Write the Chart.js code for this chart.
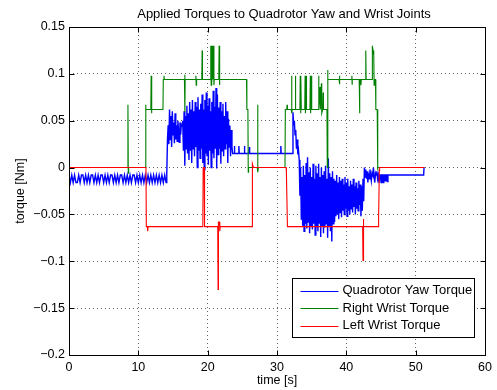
<!DOCTYPE html>
<html lang="en">
<head>
<meta charset="UTF-8">
<title>Applied Torques to Quadrotor Yaw and Wrist Joints</title>
<script src="https://cdn.jsdelivr.net/npm/chart.js@4.4.1/dist/chart.umd.min.js"></script>
<style>
  body { margin: 0; background: #fff; }
</style>
</head>
<body>
<canvas id="torqueChart" width="497" height="390"></canvas>
<script>
const chartTitle = 'Applied Torques to Quadrotor Yaw and Wrist Joints';
const seriesNames = ['Quadrotor Yaw Torque', 'Right Wrist Torque', 'Left Wrist Torque'];
const seriesColors = ['#0000ff', '#008000', '#ff0000'];

const timeTicks = [0, 10, 20, 30, 40, 50, 60];
const torqueTicks = [-0.2, -0.15, -0.1, -0.05, 0, 0.05, 0.1, 0.15];

// quadrotor yaw torque, hovering: one sample every 0.2 s from t = 0
const yawHover = [
  -0.008, -0.016, -0.008, -0.016, -0.008, -0.016, -0.016, -0.008, -0.016, -0.008,
  -0.008, -0.016, -0.008, -0.016, -0.008, -0.016, -0.008, -0.008, -0.016, -0.008,
  -0.016, -0.008, -0.016, -0.008, -0.008, -0.016, -0.008, -0.016, -0.008, -0.016,
  -0.008, -0.008, -0.016, -0.008, -0.016, -0.008, -0.016, -0.008, -0.008, -0.016,
  -0.008, -0.016, -0.008, -0.016, -0.008, -0.016, -0.008, -0.008, -0.016, -0.008,
  -0.016, -0.008, -0.016, -0.008, -0.016, -0.008, -0.016, -0.008, -0.016, -0.008,
  -0.016, -0.008, -0.016, -0.008, -0.016, -0.008, -0.016, -0.008, -0.016, -0.008,
  -0.016
];
// grasping: every 0.1 s from t = 14.1
const yawGrasp = [
  -0.008, 0.030, 0.045, 0.025, 0.062, 0.030, 0.055, 0.022, 0.060, 0.035,
  0.048, 0.026, 0.058, 0.030, 0.045, 0.028, 0.050, 0.040, 0.027, 0.048,
  0.035, 0.046, 0.044, 0.050, 0.018, 0.060, 0.002, 0.055, 0.020, 0.066,
  0.015, 0.058, 0.008, 0.070, 0.018, 0.062, 0.005, 0.072, 0.020, 0.060,
  0.012, 0.070, 0.022, 0.065, 0.000, 0.075, 0.018, 0.062, 0.010, 0.068,
  0.020, 0.078, 0.005, 0.062, -0.002, 0.072, 0.015, 0.080, 0.012, 0.066,
  0.003, 0.074, 0.018, 0.060, 0.000, 0.070, 0.015, 0.082, 0.010, 0.065,
  0.020, 0.085, -0.001, 0.078, 0.014, 0.064, 0.020, 0.070, 0.004, 0.060,
  0.018, 0.068, 0.012, 0.055, 0.020, 0.070, 0.025, 0.060, 0.005, 0.052,
  0.022, 0.045, 0.012, 0.040, 0.022, 0.015
];
// carrying: [t, torque]
const yawCarry = [
  [23.7, 0.015], [23.8, 0.015], [23.85, 0.023], [23.9, 0.015], [24.45, 0.015], [24.5, 0.023],
  [24.55, 0.015], [25.25, 0.015], [25.3, 0.023], [25.35, 0.015], [25.95, 0.015], [26.0, 0.022],
  [26.05, 0.015], [30.5, 0.015], [30.55, 0.023], [30.6, 0.015], [32.1, 0.015]
];
// releasing: every 0.1 s from t = 32.2
const yawRelease = [
  0.015, 0.059, 0.045, 0.050, 0.035, 0.040, 0.020, 0.030, 0.014, 0.018,
  0.008, -0.030, 0.000, -0.055, -0.010, -0.062, 0.002, -0.068, -0.008, -0.060,
  0.005, -0.065, 0.011, -0.058, -0.005, -0.070, 0.000, -0.062, -0.010, -0.066,
  0.004, -0.060, -0.012, -0.072, 0.002, -0.064, -0.006, -0.068, 0.004, -0.060,
  -0.010, -0.074, 0.000, -0.062, -0.008, -0.070, -0.004, -0.064, 0.002, -0.060,
  -0.012, -0.075, 0.010, -0.062, -0.006, -0.068, -0.010, -0.079, -0.004, -0.060,
  -0.012, -0.058, -0.014, -0.052, -0.008, -0.050, -0.016, -0.055, -0.010, -0.048,
  -0.014, -0.053, -0.012, -0.046, -0.018, -0.050, -0.010, -0.044, -0.016, -0.052,
  -0.012, -0.046, -0.020, -0.050, -0.014, -0.044, -0.018, -0.048, -0.012, -0.042,
  -0.020, -0.050, -0.016, -0.044, -0.022, -0.046, -0.014, -0.040, -0.018, -0.052,
  -0.020, -0.046, -0.012, -0.036, 0.000, -0.010, -0.002, -0.012, -0.004, -0.016,
  -0.006, -0.012, -0.002, -0.008, -0.014, -0.006, -0.008, 0.000, -0.010, -0.016,
  -0.006, -0.008, -0.004, -0.012, -0.008, -0.016, -0.008, -0.008, -0.016, -0.008,
  -0.008, -0.016, -0.008, -0.008, -0.014, -0.008, -0.008, -0.015, -0.008
];
const yawSettle = [[51.15, -0.008], [51.2, 0]];

// right wrist torque: [t, torque]
const rightWrist = [
  [0, 0], [8.45, 0], [8.5, 0.067], [8.55, -0.006], [8.6, 0],
  [11.0, 0], [11.05, 0.067], [11.1, 0.062], [11.8, 0.062], [11.85, 0.098], [11.9, 0.058], [11.95, 0.062],
  [13.55, 0.062], [13.6, 0.094], [13.7, 0.098], [13.75, 0.094],
  [16.65, 0.094], [16.7, 0.099], [16.72, 0.059], [16.75, 0.094],
  [18.25, 0.094], [18.3, 0.098], [18.35, 0.088], [18.4, 0.094],
  [19.15, 0.094], [19.2, 0.125], [19.25, 0.094],
  [20.4, 0.094], [20.45, 0.130], [20.5, 0.088], [20.55, 0.130], [20.6, 0.088], [20.7, 0.130],
  [20.75, 0.094], [20.85, 0.130], [20.9, 0.088], [20.95, 0.094],
  [21.6, 0.094], [21.65, 0.130], [21.7, 0.088], [21.75, 0.094],
  [25.6, 0.094], [25.65, 0.062], [25.8, 0.062], [25.85, -0.005], [25.9, 0],
  [27.15, 0], [27.2, 0.067], [27.25, -0.005], [27.3, 0],
  [31.15, 0], [31.2, 0.062], [31.4, 0.062], [31.45, 0.067], [31.5, 0.062],
  [32.05, 0.062], [32.1, 0.098], [32.15, 0.058], [32.2, 0.062], [32.6, 0.062], [32.65, 0.098], [32.7, 0.062],
  [33.3, 0.062], [33.35, 0.098], [33.4, 0.058], [33.45, 0.098], [33.5, 0.062],
  [34.0, 0.062], [34.05, 0.098], [34.1, 0.058], [34.2, 0.098], [34.25, 0.062],
  [34.75, 0.062], [34.8, 0.098], [34.85, 0.058], [34.95, 0.098], [35.0, 0.062],
  [35.95, 0.062], [36.0, 0.098], [36.05, 0.062], [36.2, 0.086], [36.25, 0.062], [36.4, 0.090],
  [36.45, 0.058], [36.6, 0.062], [36.65, 0.080], [36.7, 0.062],
  [37.2, 0.062], [37.25, 0], [37.3, 0.104], [37.35, 0.094],
  [38.95, 0.094], [39.0, 0.098], [39.03, 0.089], [39.05, 0.094],
  [40.75, 0.094], [40.8, 0.098], [40.83, 0.089], [40.85, 0.094],
  [41.85, 0.094], [41.9, 0.058], [41.95, 0.094], [42.05, 0.094], [42.1, 0.088], [42.15, 0.094],
  [42.75, 0.094], [42.8, 0.125], [42.85, 0.094],
  [43.7, 0.094], [43.75, 0.130], [43.85, 0.125], [43.95, 0.120], [44.0, 0.088], [44.1, 0.094],
  [44.2, 0.094], [44.25, 0.062], [44.45, 0.062], [44.5, -0.003], [44.55, 0], [51.25, 0]
];

// left wrist torque: [t, torque]
const leftWrist = [
  [0, 0], [11.1, 0], [11.15, -0.063], [11.3, -0.063], [11.35, -0.068], [11.4, -0.063],
  [19.3, -0.063], [19.35, 0], [19.5, 0], [19.55, -0.063],
  [21.45, -0.063], [21.5, -0.130], [21.55, -0.058], [21.7, -0.058], [21.75, -0.068], [21.8, -0.063],
  [26.4, -0.063], [26.45, 0.004], [26.6, 0],
  [31.3, 0], [31.35, -0.004], [31.5, -0.063],
  [42.35, -0.063], [42.4, -0.099], [42.45, -0.055], [42.5, -0.063],
  [44.6, -0.063], [44.65, -0.055], [44.75, -0.003], [44.8, 0], [51.25, 0]
];

function sampled(start, step, values) {
  return values.map((v, i) => ({ x: +(start + i * step).toFixed(2), y: v }));
}
function pairs(list) {
  return list.map(p => ({ x: p[0], y: p[1] }));
}

const yawPoints = [].concat(
  sampled(0, 0.2, yawHover),
  sampled(14.1, 0.1, yawGrasp),
  pairs(yawCarry),
  sampled(32.2, 0.1, yawRelease),
  pairs(yawSettle)
);

function torqueLabel(v) {
  const s = String(Math.round(v * 100) / 100);
  return s.replace('-', '\u2212');
}

// MATLAB style box, inward ticks, title and boxed legend
const matlabFrame = {
  id: 'matlabFrame',
  afterDatasetsDraw(chart) {
    const { ctx, chartArea: a, scales } = chart;
    const l = Math.round(a.left) + 0.5, r = Math.round(a.right) + 0.5;
    const t = Math.round(a.top) + 0.5, b = Math.round(a.bottom) + 0.5;
    ctx.save();
    ctx.strokeStyle = '#000';
    ctx.lineWidth = 1;
    ctx.setLineDash([]);
    ctx.strokeRect(l, t, r - l, b - t);
    ctx.beginPath();
    scales.x.ticks.forEach(tk => {
      const px = Math.round(scales.x.getPixelForValue(tk.value)) + 0.5;
      ctx.moveTo(px, b); ctx.lineTo(px, b - 5);
      ctx.moveTo(px, t); ctx.lineTo(px, t + 5);
    });
    scales.y.ticks.forEach(tk => {
      const py = Math.round(scales.y.getPixelForValue(tk.value)) + 0.5;
      ctx.moveTo(l, py); ctx.lineTo(l + 5, py);
      ctx.moveTo(r, py); ctx.lineTo(r - 5, py);
    });
    ctx.stroke();

    ctx.fillStyle = '#000';
    ctx.font = '13px "Liberation Sans", Arial, sans-serif';
    ctx.textAlign = 'center';
    ctx.textBaseline = 'middle';
    ctx.fillText(chartTitle, (a.left + a.right) / 2 + 7, 14);

    // legend
    const bx = Math.round(a.right) - 193 + 0.5, by = Math.round(a.bottom) - 77 + 0.5;
    const bw = 182, bh = 59;
    ctx.fillStyle = '#fff';
    ctx.fillRect(bx, by, bw, bh);
    ctx.strokeRect(bx, by, bw, bh);
    ctx.textAlign = 'left';
    chart.data.datasets.forEach((ds, i) => {
      const ry = by + 12 + i * 17.5;
      ctx.strokeStyle = ds.borderColor;
      ctx.lineWidth = 1;
      ctx.beginPath();
      ctx.moveTo(bx + 8, Math.round(ry) + 0.5);
      ctx.lineTo(bx + 46, Math.round(ry) + 0.5);
      ctx.stroke();
      ctx.fillStyle = '#000';
      ctx.fillText(ds.label, bx + 50, ry);
    });
    ctx.restore();
  }
};

Chart.defaults.font.family = '"Liberation Sans", Arial, Helvetica, sans-serif';
Chart.defaults.color = '#000';

const ctx = document.getElementById('torqueChart').getContext('2d');
const torqueChart = new Chart(ctx, {
  type: 'scatter',
  data: {
    datasets: [
      { label: seriesNames[0], data: yawPoints, borderColor: seriesColors[0], borderWidth: 1.4, order: 2 },
      { label: seriesNames[1], data: pairs(rightWrist), borderColor: seriesColors[1], borderWidth: 1.1, order: 1 },
      { label: seriesNames[2], data: pairs(leftWrist), borderColor: seriesColors[2], borderWidth: 1.1, order: 0 }
    ].map(ds => Object.assign(ds, {
      showLine: true, pointRadius: 0, pointHoverRadius: 0, tension: 0, fill: false
    }))
  },
  options: {
    responsive: false,
    animation: false,
    devicePixelRatio: 1,
    layout: { padding: { top: 27, right: 10, bottom: 0, left: 0 } },
    plugins: {
      legend: { display: false },
      title: { display: false },
      tooltip: { enabled: false }
    },
    scales: {
      x: {
        type: 'linear',
        min: 0,
        max: 60,
        afterBuildTicks: s => { s.ticks = timeTicks.map(v => ({ value: v })); },
        afterFit: s => { s.height = 35; },
        ticks: { padding: 5, font: { size: 12.5 } },
        grid: { color: 'rgba(0,0,0,0.6)', lineWidth: 1, drawTicks: false },
        border: { display: false, dash: [1, 3] },
        title: { display: true, text: 'time [s]', font: { size: 12.5 }, padding: { top: 0, bottom: 1.5 } }
      },
      y: {
        type: 'linear',
        min: -0.2,
        max: 0.15,
        afterBuildTicks: s => { s.ticks = torqueTicks.map(v => ({ value: v })); },
        afterFit: s => { s.width = 69; },
        ticks: { padding: 4, font: { size: 12.5 }, callback: v => torqueLabel(v) },
        grid: { color: 'rgba(0,0,0,0.6)', lineWidth: 1, drawTicks: false },
        border: { display: false, dash: [1, 3] },
        title: { display: true, text: 'torque [Nm]', font: { size: 12.5 }, padding: { top: 13.5, bottom: 0 } }
      }
    }
  },
  plugins: [matlabFrame]
});
</script>
</body>
</html>
